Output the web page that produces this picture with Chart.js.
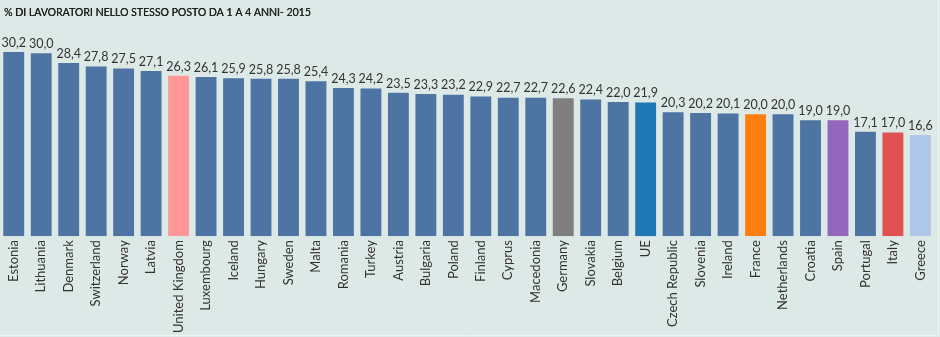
<!DOCTYPE html>
<html>
<head>
<meta charset="utf-8">
<script src="https://cdn.jsdelivr.net/npm/chart.js@4"></script>
<style>
  html, body { margin: 0; padding: 0; background: #dde9e7; }
  #wrap { position: relative; width: 940px; height: 337px; }
</style>
</head>
<body>
<div id="wrap"><canvas id="Grafica" width="940" height="337"></canvas></div>
<script>
const titolo = '% DI LAVORATORI NELLO STESSO POSTO DA 1 A 4 ANNI- 2015';
const paesi = ['Estonia', 'Lithuania', 'Denmark', 'Switzerland', 'Norway', 'Latvia', 'United Kingdom', 'Luxembourg', 'Iceland', 'Hungary', 'Sweden', 'Malta', 'Romania', 'Turkey', 'Austria', 'Bulgaria', 'Poland', 'Finland', 'Cyprus', 'Macedonia', 'Germany', 'Slovakia', 'Belgium', 'UE', 'Czech Republic', 'Slovenia', 'Ireland', 'France', 'Netherlands', 'Croatia', 'Spain', 'Portugal', 'Italy', 'Greece'];
const valori = [30.2, 30.0, 28.4, 27.8, 27.5, 27.1, 26.3, 26.1, 25.9, 25.8, 25.8, 25.4, 24.3, 24.2, 23.5, 23.3, 23.2, 22.9, 22.7, 22.7, 22.6, 22.4, 22.0, 21.9, 20.3, 20.2, 20.1, 20.0, 20.0, 19.0, 19.0, 17.1, 17.0, 16.6];

const blu = '#4e74a3';
const coloriSpeciali = {
    'United Kingdom': '#ff9896',
    'Germany': '#7f7f7f',
    'UE': '#1f77b4',
    'France': '#ff7f0e',
    'Spain': '#9467bd',
    'Italy': '#e05252',
    'Greece': '#aec7e8'
};
const colori = paesi.map(p => coloriSpeciali[p] || blu);

// valori sopra le barre + titolo a sinistra
const etichette = {
    id: 'etichette',
    afterDatasetsDraw(chart) {
        const ctx = chart.ctx;
        const meta = chart.getDatasetMeta(0);
        ctx.save();
        ctx.font = '12.5px Lato';
        ctx.fillStyle = '#333333';
        ctx.textAlign = 'center';
        ctx.textBaseline = 'bottom';
        meta.data.forEach((bar, i) => {
            ctx.fillText(valori[i].toFixed(1).replace('.', ','), bar.x, bar.y - 3);
        });
        ctx.font = '10.5px Lato';
        ctx.fillStyle = '#222222';
        ctx.textAlign = 'left';
        ctx.textBaseline = 'middle';
        ctx.fillText(titolo, 4, 13);
        ctx.fillText(titolo, 4.3, 13);
        // bordino chiaro a destra e in basso
        ctx.strokeStyle = '#eef4f3';
        ctx.lineWidth = 1;
        ctx.beginPath();
        ctx.moveTo(938.5, 0);
        ctx.lineTo(938.5, 335.5);
        ctx.lineTo(0, 335.5);
        ctx.stroke();
        ctx.restore();
    }
};

const ctx = document.getElementById('Grafica').getContext('2d');
const grafico = new Chart(ctx, {
    type: 'bar',
    data: {
        labels: paesi,
        datasets: [{
            label: '% di lavoratori',
            data: valori,
            backgroundColor: colori,
            borderWidth: 0,
            barPercentage: 0.76,
            categoryPercentage: 1
        }]
    },
    options: {
        responsive: false,
        animation: false,
        layout: { padding: { left: 0, right: 0, top: 41, bottom: 0 } },
        plugins: {
            legend: { display: false },
            tooltip: { enabled: false },
            title: { display: false }
        },
        scales: {
            x: {
                grid: { display: false, drawTicks: false },
                border: { display: false },
                ticks: {
                    autoSkip: false,
                    maxRotation: 90,
                    minRotation: 90,
                    padding: 4,
                    color: '#333333',
                    font: { family: 'Lato', size: 13 }
                }
            },
            y: {
                display: false,
                min: 0,
                max: 32
            }
        }
    },
    plugins: [etichette]
});
</script>
</body>
</html>
